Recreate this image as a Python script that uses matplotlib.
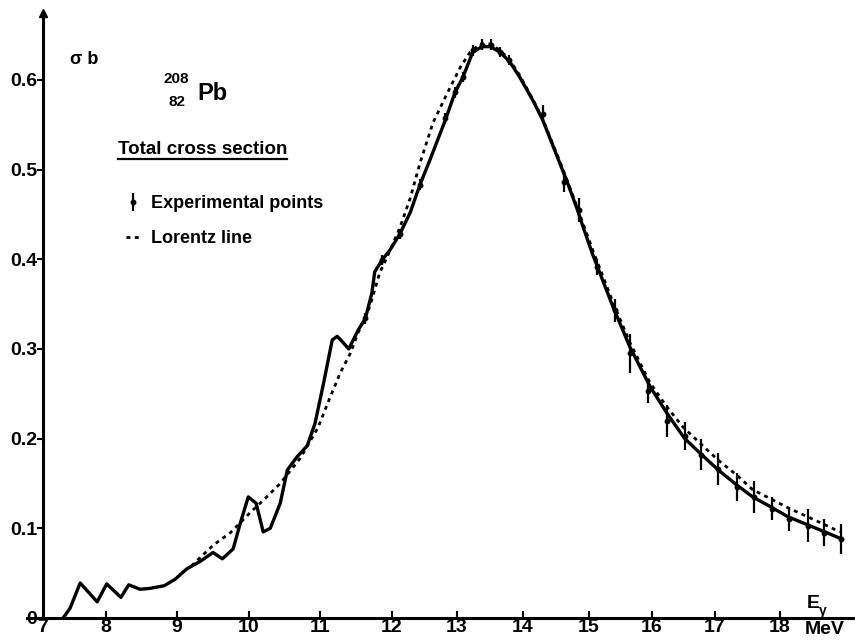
import numpy as np
import matplotlib
matplotlib.use("Agg")
import matplotlib.pyplot as plt
from matplotlib.lines import Line2D

plt.rcParams['font.family'] = ['Liberation Sans', 'DejaVu Sans']
plt.rcParams['font.weight'] = 'bold'

# smoothed curve through the measured total cross section (E in MeV, sigma in b)
e_curve = [7.32, 7.43, 7.59, 7.86, 8.01, 8.21, 8.32, 8.48, 8.62, 8.82, 8.97,
           9.14, 9.32, 9.50, 9.63, 9.78, 9.88, 9.99, 10.10, 10.20, 10.30,
           10.44, 10.54, 10.68, 10.82, 10.93, 11.05, 11.17, 11.24, 11.31,
           11.40, 11.53, 11.63, 11.72, 11.76, 11.86, 11.97, 12.12, 12.28,
           12.43, 12.58, 12.82, 12.97, 13.09, 13.24, 13.38, 13.50, 13.65,
           13.80, 13.95, 14.15, 14.30, 14.52, 14.67, 14.82, 14.91, 15.06,
           15.38, 15.65, 15.97, 16.24, 16.52, 16.79, 17.05, 17.34, 17.58,
           17.88, 18.12, 18.42, 18.69, 18.92]
sigma_curve = [0.000, 0.011, 0.039, 0.018, 0.038, 0.023, 0.037, 0.032, 0.033,
               0.036, 0.043, 0.055, 0.063, 0.073, 0.066, 0.077, 0.106, 0.135,
               0.128, 0.096, 0.100, 0.128, 0.165, 0.180, 0.192, 0.217, 0.262,
               0.310, 0.314, 0.308, 0.300, 0.321, 0.334, 0.362, 0.386, 0.399,
               0.410, 0.428, 0.452, 0.483, 0.510, 0.555, 0.586, 0.603, 0.631,
               0.637, 0.637, 0.631, 0.620, 0.603, 0.577, 0.555, 0.514, 0.486,
               0.456, 0.436, 0.405, 0.347, 0.302, 0.258, 0.228, 0.200, 0.182,
               0.165, 0.148, 0.135, 0.123, 0.113, 0.104, 0.096, 0.089]

# Lorentz line
e_lorentz = [9.20, 9.50, 9.74, 10.01, 10.25, 10.44, 10.72, 10.97, 11.14, 11.28,
             11.42, 11.53, 11.69, 11.83, 11.93, 12.12, 12.28, 12.43, 12.63,
             12.85, 13.05, 13.20, 13.35, 13.50, 13.65, 13.80, 13.95, 14.15,
             14.30, 14.52, 14.67, 14.82, 15.06, 15.38, 15.65, 15.97, 16.24,
             16.49, 16.76, 17.05, 17.34, 17.58, 17.88, 18.12, 18.42, 18.69,
             18.92]
sigma_lorentz = [0.058, 0.081, 0.095, 0.117, 0.135, 0.150, 0.178, 0.212, 0.246,
                 0.273, 0.295, 0.318, 0.347, 0.385, 0.402, 0.435, 0.468, 0.507,
                 0.552, 0.585, 0.614, 0.631, 0.640, 0.640, 0.633, 0.622, 0.605,
                 0.578, 0.556, 0.516, 0.488, 0.458, 0.410, 0.352, 0.307, 0.262,
                 0.235, 0.213, 0.195, 0.176, 0.159, 0.143, 0.132, 0.123, 0.113,
                 0.104, 0.096]

# experimental points with their errors
e_points = [11.63, 11.86, 12.12, 12.43, 12.82, 12.97, 13.09, 13.24, 13.38,
            13.52, 13.65, 13.79, 14.30, 14.62, 14.85, 15.13, 15.41, 15.65,
            15.94, 16.24, 16.52, 16.78, 17.05, 17.34, 17.60, 17.88, 18.14,
            18.43, 18.68, 18.94]
sigma_points = [0.334, 0.399, 0.428, 0.483, 0.557, 0.586, 0.603, 0.633, 0.639,
                0.639, 0.631, 0.622, 0.562, 0.486, 0.455, 0.391, 0.343, 0.295,
                0.253, 0.220, 0.203, 0.182, 0.166, 0.146, 0.135, 0.122, 0.110,
                0.103, 0.095, 0.088]
sigma_err = [0.006, 0.006, 0.006, 0.006, 0.006, 0.006, 0.006, 0.006, 0.006,
             0.006, 0.006, 0.006, 0.010, 0.011, 0.013, 0.009, 0.013, 0.022,
             0.013, 0.018, 0.016, 0.017, 0.018, 0.016, 0.018, 0.013, 0.013,
             0.018, 0.015, 0.017]

x_ticks = [7, 8, 9, 10, 11, 12, 13, 14, 15, 16, 17, 18]
x_tick_labels = ["7", "8", "9", "10", "11", "12", "13", "14", "15", "16", "17", "18"]
y_ticks = [0, 0.1, 0.2, 0.3, 0.4, 0.5, 0.6]
y_tick_labels = ["0", "0.1", "0.2", "0.3", "0.4", "0.5", "0.6"]

# the energy axis was drawn by hand, its MeV marks are not evenly spaced
axis_e = [6.0] + x_ticks + [19.5]
axis_px = [-20, 43, 106, 177, 249, 320, 392, 457, 523, 589, 652, 715, 780, 877.5]


def e_to_px(e):
    return np.interp(e, axis_e, axis_px)


def px_to_e(p):
    return np.interp(p, axis_px, axis_e)


W, H = 855, 641
fig = plt.figure(figsize=(W / 100, H / 100), dpi=100)
ax = fig.add_axes([0, 0, 1, 1])
ax.patch.set_alpha(0)

ax.set_xscale('function', functions=(e_to_px, px_to_e))
ax.set_xlim(px_to_e(0), px_to_e(W))
ax.set_ylim(-(H - 618) / 897, 618 / 897)

dots = (0, (1.4, 1.6))
ax.plot(e_lorentz, sigma_lorentz, color='black', lw=2.0, ls=dots, zorder=2)
ax.plot(e_curve, sigma_curve, color='black', lw=2.4, solid_joinstyle='round', zorder=3)
pts = ax.errorbar(e_points, sigma_points, yerr=sigma_err, fmt='o', ms=3.2,
                  color='black', elinewidth=1.6, capsize=0, zorder=4)

# axes drawn through the origin
for side in ('top', 'right'):
    ax.spines[side].set_visible(False)
ax.spines['left'].set_position(('data', 7))
ax.spines['left'].set_bounds(0, 0.675)
ax.spines['bottom'].set_position(('data', 0))
ax.spines['bottom'].set_bounds(px_to_e(27), px_to_e(W))
for side in ('left', 'bottom'):
    ax.spines[side].set_linewidth(2.2)
ax.plot([7], [0.675], marker='^', ms=6, color='black', clip_on=False)

ax.set_xticks(x_ticks)
ax.set_xticklabels(x_tick_labels)
ax.set_yticks(y_ticks)
ax.set_yticklabels(y_tick_labels)
ax.xaxis.set_minor_locator(plt.NullLocator())
ax.yaxis.set_minor_locator(plt.NullLocator())
ax.tick_params(axis='x', direction='in', length=5, width=1.5, pad=1, labelsize=14)
ax.tick_params(axis='y', direction='out', length=4, width=1.5, pad=0, labelsize=14)

# labels and title block
fig.text(84 / W, 1 - 60 / H, "σ b", fontsize=13, ha='center', va='center')
fig.text(176 / W, 1 - 79 / H, "208", fontsize=11, ha='center', va='center')
fig.text(177 / W, 1 - 102 / H, "82", fontsize=11, ha='center', va='center')
fig.text(212 / W, 1 - 93 / H, "Pb", fontsize=17, ha='center', va='center')
title = fig.text(118 / W, 1 - 150 / H, "Total cross section", fontsize=13.5,
                 ha='left', va='center')
fig.text(813 / W, 1 - 604 / H, "E", fontsize=14, ha='center', va='center')
fig.text(823 / W, 1 - 611 / H, "γ", fontsize=10, ha='center', va='center')
fig.text(825 / W, 1 - 629 / H, "MeV", fontsize=14, ha='center', va='center')

lorentz_handle = Line2D([], [], color='black', lw=2.0, ls=dots)
ax.legend([pts, lorentz_handle], ["Experimental points", "Lorentz line"],
          loc='upper left', bbox_to_anchor=(126 / W, 1 - 195 / H),
          bbox_transform=fig.transFigure, frameon=False, fontsize=13,
          handlelength=0.8, handletextpad=0.6, labelspacing=1.0, borderpad=0,
          borderaxespad=0)

# underline the title
fig.canvas.draw()
bb = title.get_window_extent().transformed(fig.transFigure.inverted())
fig.add_artist(Line2D([bb.x0, bb.x1], [bb.y0 - 1 / H, bb.y0 - 1 / H],
                      color='black', lw=1.6, transform=fig.transFigure))

fig.savefig("out.png", dpi=100, facecolor='white')
